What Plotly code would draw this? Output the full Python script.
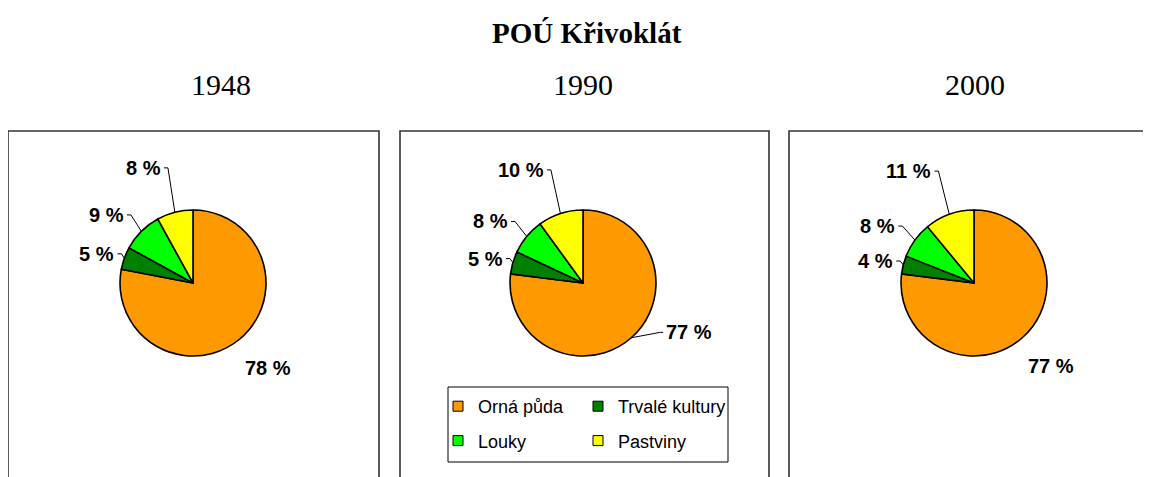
import math
import plotly.graph_objects as go

# ---------------- data ----------------
title_text = "POÚ Křivoklát"
years = ["1948", "1990", "2000"]
categories = ["Orná půda", "Trvalé kultury", "Louky", "Pastviny"]
shares_1948 = [78, 5, 9, 8]
shares_1990 = [77, 5, 8, 10]
shares_2000 = [77, 4, 8, 11]
series = [shares_1948, shares_1990, shares_2000]
colors = ["#FF9900", "#008000", "#00FF00", "#FFFF00"]

# ---------------- layout / style ----------------
W, H = 1151, 477
OFF = 8  # page body margin


def px(x):
    return (x - OFF) / W


def py(y):
    return 1 - (y - OFF) / H


centers = [(193, 283), (583, 283), (974, 283)]
R = 73
year_label_x = [221, 583, 975]
panels = [(8, 379), (400, 769), (789, 1170)]
label_k = [1.52, 1.1, 1.28, 1.6]          # label distance (in radii) per category
overrides = {(1, 0): dict(dtheta=-17, k=1.29)}  # moved label in 1990 (legend in the way)

LABEL_FONT = dict(family="Liberation Sans, Arial", size=20, color="black")
SERIF = "Liberation Serif, Times New Roman"

fig = go.Figure()
shapes = []
annotations = []

for i, vals in enumerate(series):
    cx, cy = centers[i]
    fig.add_trace(go.Pie(
        values=vals, labels=categories, sort=False, direction="clockwise", rotation=0,
        marker=dict(colors=colors, line=dict(color="black", width=1.6)),
        textinfo="none", showlegend=False, hoverinfo="label+percent",
        domain=dict(x=[px(cx - R), px(cx + R)], y=[py(cy + R), py(cy - R)]),
    ))
    total = sum(vals)
    cum = 0
    for j, v in enumerate(vals):
        theta = (cum + v / 2) / total * 2 * math.pi
        cum += v
        pct = round(v / total * 100)
        txt = f"<b>{pct} %</b>"
        dx, dy = math.sin(theta), -math.cos(theta)
        ex, ey = cx + R * dx, cy + R * dy
        ov = overrides.get((i, j))
        if ov:
            th2 = theta + math.radians(ov["dtheta"])
            ax_, ay_ = cx + ov["k"] * R * math.sin(th2), cy - ov["k"] * R * math.cos(th2)
            annotations.append(dict(x=px(ax_ + 1), y=py(ay_), xref="paper", yref="paper",
                                    text=txt, showarrow=False, xanchor="left",
                                    yanchor="middle", font=LABEL_FONT))
            shapes.append(dict(type="path", xref="paper", yref="paper",
                               path=f"M{px(ax_)},{py(ay_)} L{px(ax_ - 3)},{py(ay_)} L{px(ex)},{py(ey)}",
                               line=dict(color="black", width=1)))
        elif j == 0:
            lx, ly = cx + label_k[j] * R * dx + 4, cy + label_k[j] * R * dy
            annotations.append(dict(x=px(lx), y=py(ly), xref="paper", yref="paper",
                                    text=txt, showarrow=False, xanchor="center",
                                    yanchor="middle", font=LABEL_FONT))
        else:
            ax_, ay_ = cx + label_k[j] * R * dx, cy + label_k[j] * R * dy - 2
            annotations.append(dict(x=px(ax_ - 1), y=py(ay_), xref="paper", yref="paper",
                                    text=txt, showarrow=False, xanchor="right",
                                    yanchor="middle", font=LABEL_FONT))
            shapes.append(dict(type="path", xref="paper", yref="paper",
                               path=f"M{px(ax_)},{py(ay_)} L{px(ax_ + 4)},{py(ay_)} L{px(ex)},{py(ey)}",
                               line=dict(color="black", width=1)))

# panel frames
for (x0, x1) in panels:
    shapes.append(dict(type="rect", xref="paper", yref="paper",
                       x0=px(x0), x1=px(x1), y0=py(520), y1=py(131),
                       line=dict(color="#333333", width=1.6), layer="below"))

# legend frame
shapes.append(dict(type="rect", xref="paper", yref="paper",
                   x0=px(448), x1=px(728), y0=py(462), y1=py(387),
                   line=dict(color="black", width=1)))

# title and year labels
annotations.append(dict(x=px(587), y=py(33), xref="paper", yref="paper",
                        text=f"<b>{title_text}</b>", showarrow=False,
                        xanchor="center", yanchor="middle",
                        font=dict(family=SERIF, size=29, color="black")))
for k, yr in enumerate(years):
    annotations.append(dict(x=px(year_label_x[k]), y=py(84), xref="paper", yref="paper",
                            text=yr, showarrow=False, xanchor="center", yanchor="middle",
                            font=dict(family=SERIF, size=30, color="black")))

# legend entries (two columns -> two legends)
legend_of = ["legend", "legend2", "legend", "legend2"]
for j, cat in enumerate(categories):
    fig.add_trace(go.Scatter(
        x=[None], y=[None], mode="markers", name=cat, legend=legend_of[j],
        legendgroup=cat, showlegend=True, hoverinfo="skip",
        marker=dict(symbol="square", size=10, color=colors[j],
                    line=dict(color="black", width=1)),
    ))

legend_common = dict(yanchor="top", xanchor="left", y=py(388),
                     bgcolor="rgba(0,0,0,0)", borderwidth=0, tracegroupgap=8,
                     traceorder="grouped",
                     font=dict(family="Liberation Sans, Arial", size=18, color="black"))

fig.update_layout(
    width=W, height=H, autosize=False,
    margin=dict(l=0, r=0, t=0, b=0),
    paper_bgcolor="white", plot_bgcolor="white",
    xaxis=dict(visible=False), yaxis=dict(visible=False),
    shapes=shapes, annotations=annotations,
    legend=dict(x=px(438), **legend_common),
    legend2=dict(x=px(578), **legend_common),
)

fig.write_html("out.html")
